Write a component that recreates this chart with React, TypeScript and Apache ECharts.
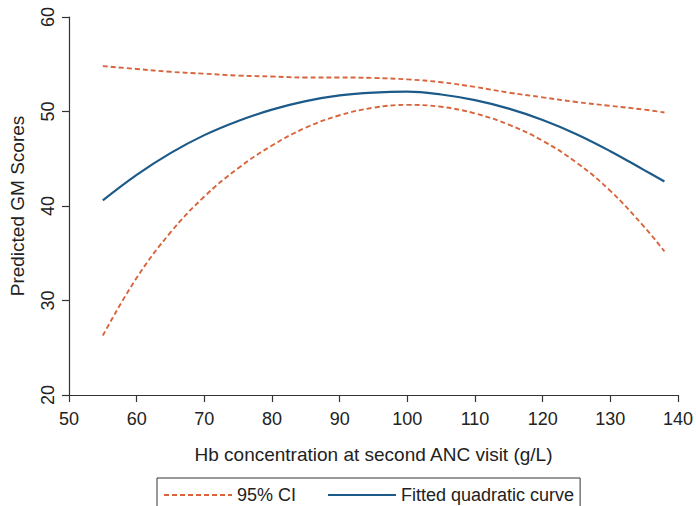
import React, { useEffect, useRef } from "react";
import * as echarts from "echarts";

const hb = [55, 60, 65, 70, 75, 80, 85, 90, 95, 100, 105, 110, 115, 120, 125, 130, 135, 138];
const fitted = [40.6, 43.3, 45.6, 47.5, 49.0, 50.2, 51.1, 51.7, 52.0, 52.1, 51.8, 51.2, 50.3, 49.1, 47.6, 45.8, 43.8, 42.6];
const lowerCI = [26.3, 32.4, 37.2, 41.0, 44.0, 46.4, 48.3, 49.6, 50.4, 50.7, 50.5, 49.8, 48.6, 46.9, 44.6, 41.6, 37.8, 35.2];
const upperCI = [54.8, 54.5, 54.2, 54.0, 53.8, 53.7, 53.6, 53.6, 53.55, 53.4, 53.1, 52.6, 52.0, 51.5, 51.0, 50.6, 50.2, 49.9];

const xName = "Hb concentration at second ANC visit (g/L)";
const yName = "Predicted GM Scores";
const ciName = "95% CI";
const fitName = "Fitted quadratic curve";

const FONT = "'Liberation Sans', Arial, sans-serif";
const CI_COLOR = "#d8643b";
const FIT_COLOR = "#1c5a8a";
const AXIS_COLOR = "#333333";

const pairs = (ys: number[]) => hb.map((x, i) => [x, ys[i]]);

export default function App() {
  const ref = useRef<HTMLDivElement>(null);
  useEffect(() => {
    if (!ref.current) return;
    const chart = echarts.init(ref.current, undefined, { renderer: "svg" });
    const ciLine = { color: CI_COLOR, width: 1.9, type: [5, 3] as any };
    chart.setOption({
      animation: false,
      backgroundColor: "#ffffff",
      textStyle: { fontFamily: FONT },
      grid: { left: 68, top: 17, width: 615, height: 378, containLabel: false },
      legend: {
        left: 157,
        top: 478,
        orient: "horizontal",
        data: [ciName, fitName],
        itemWidth: 68,
        itemHeight: 14,
        itemGap: 31,
        padding: [8, 6, 8, 6],
        borderColor: AXIS_COLOR,
        borderWidth: 1,
        itemStyle: { color: "transparent", borderColor: "transparent", borderWidth: 0, opacity: 0 },
        textStyle: { fontFamily: FONT, fontSize: 18, color: "#222" },
      },
      xAxis: {
        type: "value",
        min: 50,
        max: 140,
        interval: 10,
        name: xName,
        nameLocation: "middle",
        nameGap: 50,
        nameTextStyle: { fontFamily: FONT, fontSize: 19, color: "#222" },
        axisLine: { lineStyle: { color: AXIS_COLOR, width: 1.2 } },
        axisTick: { length: 7, lineStyle: { color: AXIS_COLOR, width: 1.2 } },
        axisLabel: { fontFamily: FONT, fontSize: 18, color: "#222", margin: 15 },
        splitLine: { show: false },
      },
      yAxis: {
        type: "value",
        min: 20,
        max: 60,
        interval: 10,
        name: yName,
        nameLocation: "middle",
        nameGap: 42,
        nameRotate: 90,
        nameTextStyle: { fontFamily: FONT, fontSize: 19, color: "#222" },
        axisLine: { show: true, lineStyle: { color: AXIS_COLOR, width: 1.2 } },
        axisTick: { show: true, length: 7, lineStyle: { color: AXIS_COLOR, width: 1.2 } },
        axisLabel: { fontFamily: FONT, fontSize: 18, color: "#222", margin: 12, rotate: 90 },
        splitLine: { show: false },
      },
      series: [
        {
          name: ciName,
          type: "line",
          data: pairs(upperCI),
          smooth: 0.4,
          symbol: "none",
          color: CI_COLOR,
          lineStyle: ciLine,
        },
        {
          name: ciName,
          type: "line",
          data: pairs(lowerCI),
          smooth: 0.4,
          symbol: "none",
          color: CI_COLOR,
          lineStyle: ciLine,
        },
        {
          name: fitName,
          type: "line",
          data: pairs(fitted),
          smooth: 0.4,
          symbol: "none",
          color: FIT_COLOR,
          lineStyle: { color: FIT_COLOR, width: 2.2 },
        },
      ],
    });
    return () => chart.dispose();
  }, []);
  return (
    <div
      ref={ref}
      style={{ position: "fixed", left: 0, top: 0, width: 696, height: 506 }}
    />
  );
}
